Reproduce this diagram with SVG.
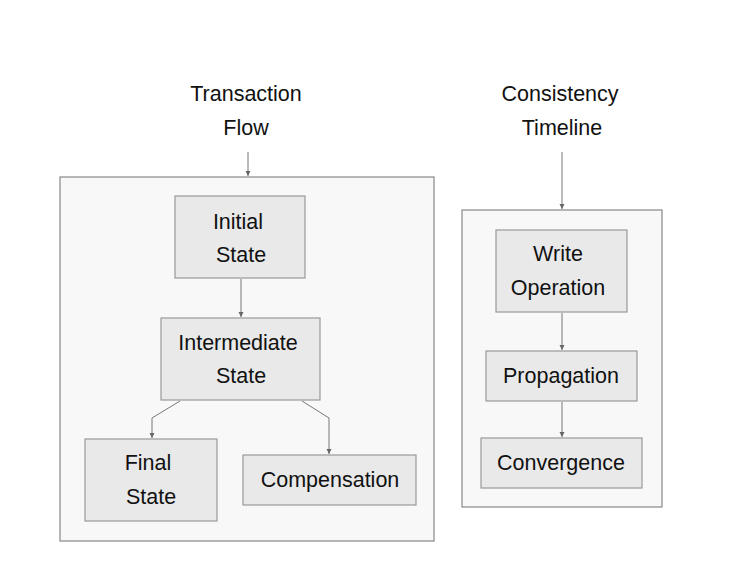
<svg xmlns="http://www.w3.org/2000/svg" width="748" height="568" viewBox="0 0 748 568">
<defs><marker id="a" markerWidth="6" markerHeight="6" refX="5" refY="3" orient="auto" markerUnits="userSpaceOnUse"><path d="M0,0.5 L5,3 L0,5.5 Z" fill="#666"/></marker></defs>
<style>
.c{fill:#f8f8f8;stroke:#888;stroke-width:1.2}
.n{fill:#e9e9e9;stroke:#999;stroke-width:1.2}
text{font-family:"Liberation Sans",Arial,sans-serif;font-size:21.5px;fill:#111;text-anchor:middle}
.e{fill:none;stroke:#777;stroke-width:1;marker-end:url(#a)}
</style>
<rect width="748" height="568" fill="#fff"/>
<g id="tx"><rect class="c" x="60" y="177" width="374" height="364"/><text x="246" y="101">Transaction</text><text x="246" y="135">Flow</text></g>
<g id="ct"><rect class="c" x="462" y="210" width="200" height="297"/><text x="560" y="101">Consistency</text><text x="562" y="135">Timeline</text></g>
<g id="initial"><rect class="n" x="175" y="196" width="130" height="82"/><text x="238" y="229">Initial</text><text x="241" y="262">State</text></g>
<g id="intermediate"><rect class="n" x="161" y="318" width="159" height="82"/><text x="238" y="350">Intermediate</text><text x="241" y="383">State</text></g>
<g id="final"><rect class="n" x="85" y="439" width="132" height="82"/><text x="148" y="470">Final</text><text x="151" y="504">State</text></g>
<g id="comp"><rect class="n" x="243" y="455" width="173" height="50"/><text x="330" y="487">Compensation</text></g>
<g id="write"><rect class="n" x="496" y="230" width="131" height="82"/><text x="558" y="261">Write</text><text x="558" y="295">Operation</text></g>
<g id="prop"><rect class="n" x="486" y="351" width="151" height="50"/><text x="561" y="383">Propagation</text></g>
<g id="conv"><rect class="n" x="481" y="438" width="161" height="50"/><text x="561" y="470">Convergence</text></g>
<g id="edges">
<path class="e" d="M248,152 V176"/>
<path class="e" d="M562,152 V209"/>
<path class="e" d="M241,279 V317"/>
<path class="e" d="M180,401 L152,418 V438"/>
<path class="e" d="M302,401 L329,418 V454"/>
<path class="e" d="M562,313 V350"/>
<path class="e" d="M562,402 V437"/>
</g>
</svg>
